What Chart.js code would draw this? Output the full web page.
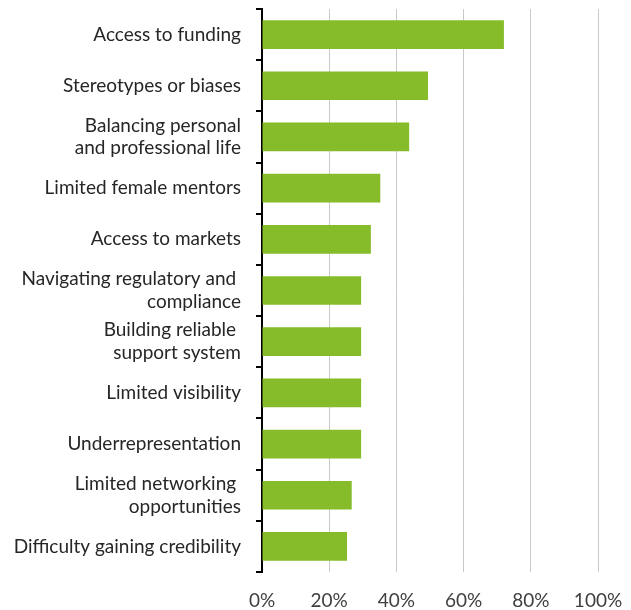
<!DOCTYPE html>
<html>
  <head>
    <title>Challenges</title>
    <style>
      html, body { margin: 0; padding: 0; background: #fff; }
      #wrap { width: 631px; height: 610px; }
    </style>
  </head>
  <body>
    <div id="wrap"><canvas id="challengeChart" width="631" height="610"></canvas></div>

    <script src="https://cdn.jsdelivr.net/npm/chart.js@4"></script>
    <script>
      var categories = [
        "Access to funding",
        "Stereotypes or biases",
        ["Balancing personal", "and professional life"],
        "Limited female mentors",
        "Access to markets",
        ["Navigating regulatory and ", "compliance"],
        ["Building reliable ", "support system"],
        "Limited visibility",
        "Underrepresentation",
        ["Limited networking ", "opportunities"],
        "Difficulty gaining credibility",
      ];
      var shares = [72, 49.4, 43.8, 35.2, 32.4, 29.5, 29.5, 29.5, 29.5, 26.7, 25.3];
      var xTicks = [0, 20, 40, 60, 80, 100];

      var labelFont = { family: "Lato, 'Liberation Sans', sans-serif", size: 19 };

      function initChart() {
        new Chart(document.getElementById("challengeChart").getContext("2d"), {
          type: "bar",
          data: {
            labels: categories,
            datasets: [
              {
                data: shares,
                backgroundColor: "#86bc29",
                categoryPercentage: 0.56,
                barPercentage: 1,
              },
            ],
          },
          options: {
            indexAxis: "y",
            responsive: false,
            animation: false,
            layout: { padding: { top: 9, right: 33, left: 8, bottom: 0 } },
            plugins: { legend: { display: false }, tooltip: { enabled: false } },
            scales: {
              x: {
                min: 0,
                max: 100,
                afterBuildTicks: function (scale) {
                  scale.ticks = xTicks.map((v) => ({ value: v }));
                },
                afterFit: function (scale) {
                  scale.height = 38;
                  scale.paddingLeft = 0;
                  scale.paddingRight = 0;
                },
                grid: { color: "#c9c9c9", lineWidth: 1, drawTicks: false },
                border: { display: false },
                ticks: {
                  padding: 17,
                  color: "#404040",
                  font: labelFont,
                  callback: (v) => v + "%",
                },
              },
              y: {
                afterFit: function (scale) {
                  scale.width = 262 - 8;
                  scale.paddingTop = 0;
                  scale.paddingBottom = 0;
                },
                grid: {
                  offset: true,
                  drawOnChartArea: false,
                  color: "#000",
                  lineWidth: 2,
                  tickLength: 6,
                },
                border: { color: "#000", width: 2 },
                ticks: {
                  padding: 15,
                  color: "#262626",
                  font: labelFont,
                },
              },
            },
          },
        });
      }

      window.onload = initChart;
    </script>
  </body>
</html>
